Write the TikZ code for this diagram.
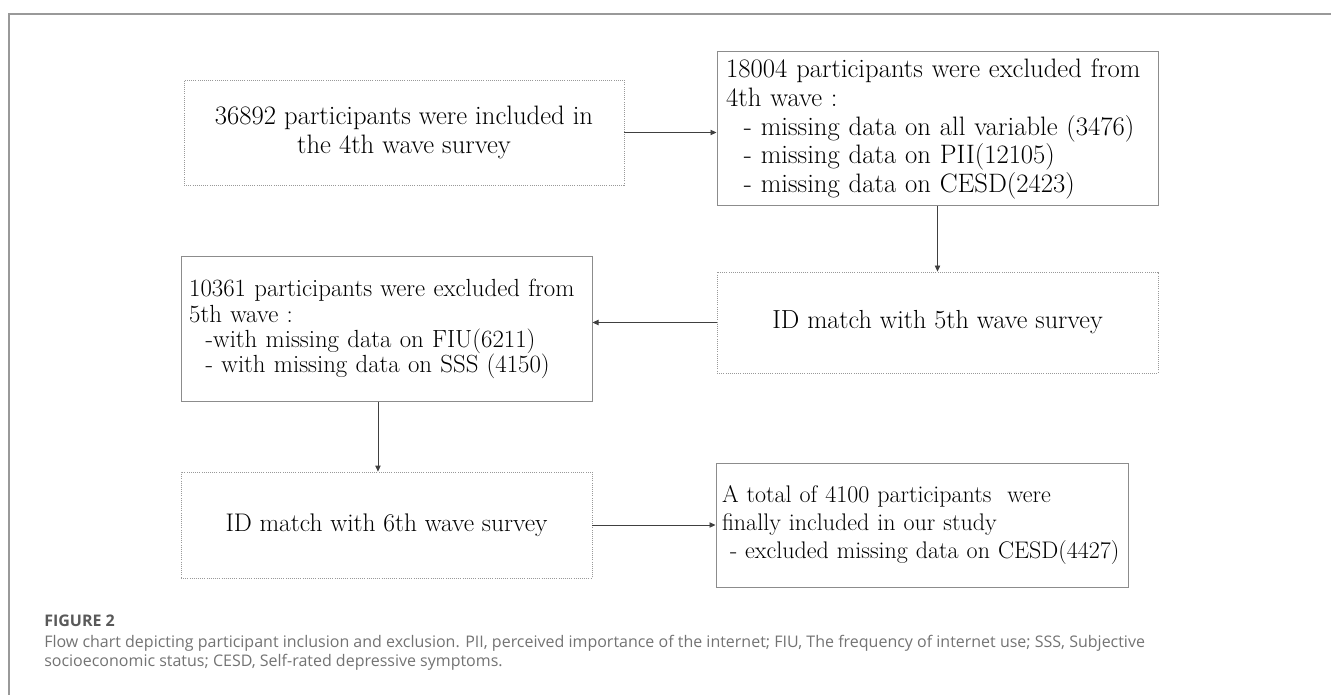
\documentclass[tikz,border=0pt]{standalone}
\usepackage{fontspec}
\newfontfamily\capfont{Open Sans}
\usetikzlibrary{arrows.meta}

\tikzset{
  solidbox/.style={draw=black!45, line width=0.75pt, align=left, inner xsep=6.5pt, font=\fontsize{20}{21.4}\selectfont},
  dotbox/.style={draw=black!40, densely dotted, line width=0.6pt, align=center, font=\fontsize{19.6}{21.8}\selectfont},
  arr/.style={draw=black!75, line width=0.6pt, -{Triangle[length=4.5pt,width=4pt]}}
}

\begin{document}
\begin{tikzpicture}[x=0.75pt,y=0.75pt,yscale=-1,xscale=1]
\useasboundingbox (0,0) rectangle (1331,695);
% frame
\draw [color=black!40, line width=1.5pt] (9,695) -- (9,14) -- (1331,14) ;
% Boxes
\node [dotbox, minimum width=330pt, minimum height=78.75pt, font=\fontsize{20}{21.8}\selectfont] (incl4) at (404,132.5) {36892 participants were included in\\the 4th wave survey};
\node [solidbox, minimum width=330.75pt, minimum height=115.5pt, text width=317pt] (excl4) at (937.5,129) {18004 participants were excluded from\\4th wave :\\\ \ - missing data on all variable (3476)\\\ \ - missing data on PII(12105)\\\ \ - missing data on CESD(2423)};
\node [dotbox, minimum width=330.75pt, minimum height=75.75pt] (match5) at (937.5,322.5) {ID match with 5th wave survey};
\node [solidbox, minimum width=308.25pt, minimum height=108pt, text width=296pt, inner xsep=5.5pt, font=\fontsize{18.6}{18.9}\selectfont] (excl5) at (386.5,329) {10361 participants were excluded from\\5th wave :\\\ \ -with missing data on FIU(6211)\\\ \ - with missing data on SSS (4150)};
\node [dotbox, minimum width=308.25pt, minimum height=79.5pt, font=\fontsize{19.1}{21.8}\selectfont] (match6) at (386.5,525) {ID match with 6th wave survey};
\node [solidbox, minimum width=309pt, minimum height=93pt, text width=300pt, inner xsep=4.5pt, font=\fontsize{18}{21}\selectfont] (final) at (922,525) {A total of 4100 participants\ \ were\\finally included in our study\\\ - excluded missing data on CESD(4427)};
% Arrows
\draw [arr] (incl4.east) -- (incl4.east -| excl4.west) ;
\draw [arr] (excl4.south) -- (match5.north) ;
\draw [arr] (match5.west) -- (match5.west -| excl5.east) ;
\draw [arr] ([xshift=-6.4pt]excl5.south) -- ([xshift=-6.4pt]match6.north) ;
\draw [arr] (match6.east) -- (match6.east -| final.west) ;
% Caption
\node [anchor=west, inner sep=0pt, text=black!65, font=\capfont\bfseries\fontsize{12}{14}\selectfont] (figlabel) at (44,621) {FIGURE 2};
\node [anchor=north west, inner sep=0pt, align=left, text=black!55, font=\capfont\fontsize{12}{14.25}\selectfont] (caption) at (44,635) {Flow chart depicting participant inclusion and exclusion. PII, perceived importance of the internet; FIU, The frequency of internet use; SSS, Subjective\\socioeconomic status; CESD, Self-rated depressive symptoms.};
\end{tikzpicture}
\end{document}
